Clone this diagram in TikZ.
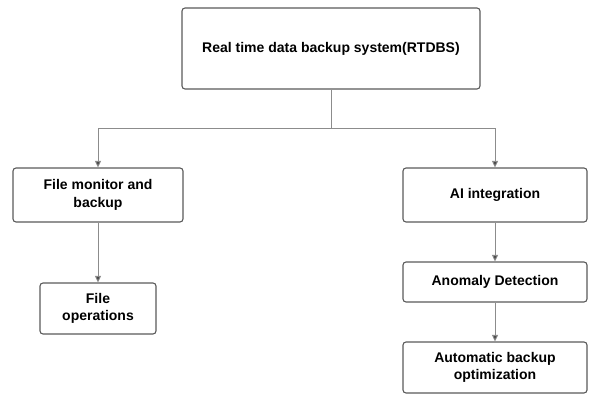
\documentclass[tikz,border=0pt]{standalone}
\usepackage{fontspec}
\setmainfont{Liberation Sans}
\definecolor{boxline}{RGB}{90,90,90}
\definecolor{connline}{RGB}{140,140,140}
\definecolor{tipgray}{RGB}{75,75,75}
\usetikzlibrary{arrows.meta,positioning}
\tikzset{
  blockbox/.style={draw=boxline,line width=1.1pt,rounded corners=3pt,fill=white,
    align=center,font=\fontsize{14}{17.5}\selectfont\bfseries,inner sep=2pt},
  conn/.style={draw=connline,line width=0.9pt},
  connarrow/.style={conn,-{Triangle[length=6.5pt,width=6pt,fill=tipgray]}}
}
\begin{document}
\begin{tikzpicture}[x=1pt,y=-1pt]
  \useasboundingbox (0,0) rectangle (589,396);
  % root
  \node[blockbox,minimum width=298pt,minimum height=81pt] (rtdbs) at (331,48.5) {Real time data backup system(RTDBS)};
  % left branch
  \node[blockbox,minimum width=170pt,minimum height=54pt] (monitor) at (98,195) {File monitor and\\backup};
  \node[blockbox,minimum width=116pt,minimum height=51pt] (fileops) at (98,308.5) {File\\operations};
  % right branch
  \node[blockbox,minimum width=184pt,minimum height=54pt] (aiint) at (495,195) {AI integration};
  \node[blockbox,minimum width=184pt,minimum height=40pt] (anomaly) at (495,282) {Anomaly Detection};
  \node[blockbox,minimum width=184pt,minimum height=51pt] (autoopt) at (495,367.5) {Automatic backup\\optimization};
  % connectors
  \coordinate (split) at (331,128);
  \draw[conn] (rtdbs) -- (split);
  \draw[connarrow] (split) -| (monitor);
  \draw[connarrow] (split) -| (aiint);
  \draw[connarrow] (monitor) -- (fileops);
  \draw[connarrow] (aiint) -- (anomaly);
  \draw[connarrow] (anomaly) -- (autoopt);
\end{tikzpicture}
\end{document}
